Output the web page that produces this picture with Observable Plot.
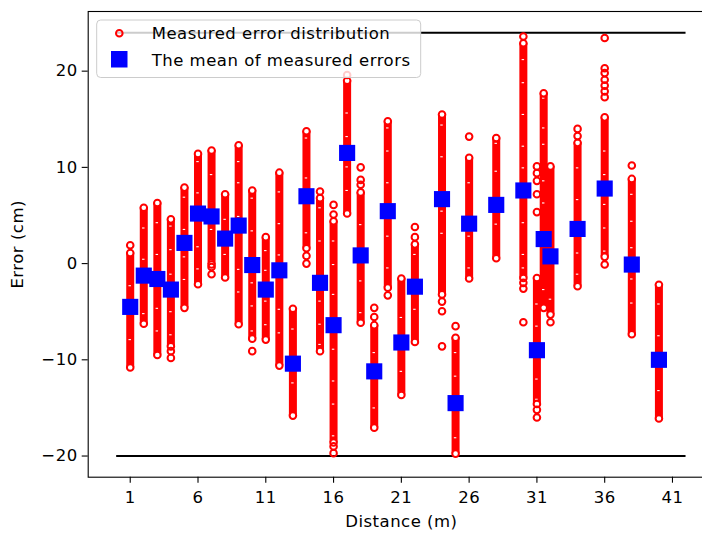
<!DOCTYPE html>
<html><head><meta charset="utf-8">
<script src="https://cdn.jsdelivr.net/npm/d3@7"></script>
<script src="https://cdn.jsdelivr.net/npm/@observablehq/plot@0.6"></script>
<style>
html,body{margin:0;padding:0;background:#fff;overflow:hidden}
#wrap{position:relative;width:702px;height:534px;font-family:"DejaVu Sans",sans-serif}
#wrap svg.plot-svg{overflow:hidden}
#wrap svg text{letter-spacing:0.5px}
#legend{position:absolute;left:0;top:0;pointer-events:none}
</style></head><body><div id="wrap"></div>
<script>
// ---- data ----
const distances   = [1,2,3,4,5,6,7,8,9,10,11,12,13,14,15,16,17,18,19,20,21,22,24,25,26,28,30,31,31.5,32,34,36,38,40];
const meanErrors  = [-4.5,-1.25,-1.6,-2.7,2.15,5.2,4.9,2.6,3.95,-0.15,-2.7,-0.7,-10.4,7.0,-2.0,-6.4,11.5,0.85,-11.2,5.45,-8.2,-2.4,6.7,-14.5,4.15,6.1,7.6,-9.0,2.55,0.75,3.6,7.8,-0.1,-10.0];
const spreadLow   = [-10.8,-6.25,-9.5,-8.6,-4.6,-2.15,-0.1,-1.45,-6.3,-7.8,-7.9,-10.6,-15.8,1.6,-9.1,-18.6,5.2,-6.15,-17.05,-2.5,-13.65,-8.15,-3.2,-19.75,-1.55,0.55,-1.5,-14.6,-4.6,-5.3,-2.35,0.7,-7.35,-16.1];
const spreadHigh  = [1.1,5.8,6.3,4.6,7.9,11.4,11.75,7.2,12.3,7.6,2.75,9.45,-4.7,13.75,6.8,4.4,19.0,7.4,-6.4,14.8,-1.55,2.0,15.5,-7.7,11.0,13.05,22.9,-1.5,17.7,10.1,12.55,15.2,8.8,-2.2];
const outlierDistance = [1,4,4,7,7,10,14,14,15,16,16,16,16,17,18,18,18,19,19,20,22,22,24,24,24,25,26,30,30,30,30,31,31,31,31,31,31,31,32,34,34,36,36,36,36,36,36,36,36,38];
const outlierError    = [1.9,-9.1,-9.8,-0.35,-1.1,-9.1,0.8,0.0,7.5,6.1,5.1,-19.0,-19.7,19.6,10.0,8.7,8.2,-4.6,-5.55,-3.3,3.8,2.75,-3.95,-4.95,-8.6,-6.5,13.2,23.6,-2.0,-2.6,-6.1,10.1,9.4,8.6,7.2,5.35,-15.2,-16.0,-6.1,14.0,13.25,23.45,20.3,19.8,19.1,18.5,17.9,17.3,-0.1,10.2];
// small gaps inside the dense clouds of measurements (seen as white flecks)
const gapDistance = [1,1, 2,2,2, 3,3,3,3, 4,4,4,4,4, 5,5,5,5, 6,6,6,6, 7,7,7, 8,8,8, 9,9,9,9,9, 10,10,10,10,10, 11,11,11,11, 12,12,12,12,12, 13,13, 14,14,14,14, 15,15,15,15,15, 16,16,16,16,16,16,16, 17,17,17,17,17, 18,18,18, 19,19, 20,20,20,20,20, 21,21, 22,22, 24,24,24,24, 25,25,25, 26,26,26, 28,28,28, 30,30,30,30,30,30,30,30, 31,31,31,31, 31.5,31.5,31.5,31.5,31.5,31.5, 32, 34,34,34,34, 36,36,36,36,36, 38,38,38,38,38, 40,40,40];
const gapError    = [-2.3,-7.9, 3.7,0.45,-5.2, 4.25,0.95,-4.65,-7.0, 3.9,1.45,-1.1,-5.0,-7.4, 6.9,3.55,0.7,-1.65, 10.6,7.35,1.75,-0.55, 9.25,3.55,0.25, 6.9,4.6,0.95, 10.6,8.4,4.9,-0.6,-2.95, 6.8,3.4,-2.0,-4.4,-7.0, 1.35,-0.7,-3.9,-6.35, 7.45,4.15,0.9,-4.75,-7.2, -6.8,-12.4, 13.05,8.9,3.2,1.8, 5.8,2.35,-3.9,-6.3,-8.4, 2.35,-0.1,-3.2,-8.9,-12.2,-14.6,-17.9, 18.95,15.65,13.2,10.05,7.6, 4.05,-1.8,-5.1, -9.25,-15.0, 14.1,11.7,8.4,2.85,-0.45, -5.6,-11.2, 0.95,-4.75, 14.4,11.1,5.45,3.15, -9.25,-11.7,-18.1, 8.4,2.85,-0.45, 12.5,9.6,4.1, 21.2,18.8,15.5,12.2,9.95,4.25,0.95,-0.45, -4.2,-6.5,-12.0,-14.1, 17.2,14.1,12.4,8.6,6.3,-2.7, -3.7, 9.95,6.65,1.1,-1.1, 11.7,9.25,6.15,3.7,1.3, 7.2,4.4,1.65,-1.6,-4.1, -4.2,-7.5,-13.2];
const limitLevels = [24, -20];
const limitFrom = 0, limitTo = 42;
const xTicks = [1,6,11,16,21,26,31,36,41];
const yTicks = [-20,-10,0,10,20];
const xLabel = "Distance (m)";
const yLabel = "Error (cm)";
const legendLabels = ["Measured error distribution", "The mean of measured errors"];

// ---- tables built from the arrays ----
const cols = distances.map((d, i) => ({d, mean: meanErrors[i], lo: spreadLow[i], hi: spreadHigh[i]}));
const ends = cols.flatMap(c => [{d: c.d, v: c.lo}, {d: c.d, v: c.hi}]);
const outs = outlierDistance.map((d, i) => ({d, v: outlierError[i]}));
const gaps = gapDistance.map((d, i) => ({d, v: gapError[i]}));
const fmt = v => v < 0 ? "\u2212" + Math.abs(v) : String(v);

const chart = Plot.plot({
  width: 702, height: 534,
  marginTop: 11, marginBottom: 57.3, marginLeft: 87.7, marginRight: -12,
  style: {fontFamily: '"DejaVu Sans", sans-serif', background: "white", color: "black"},
  x: {domain: [-2.1, 44.1]},
  y: {domain: [-22.2, 26.2]},
  marks: [
    Plot.ruleY(limitLevels, {x1: limitFrom, x2: limitTo, stroke: "black", strokeWidth: 2}),
    Plot.ruleX(cols, {x: "d", y1: "lo", y2: "hi", stroke: "red", strokeWidth: 8}),
    Plot.ruleY(gaps, {y: "v", x1: g => g.d - 0.09, x2: g => g.d + 0.09, stroke: "white", strokeWidth: 1.1}),
    Plot.dot(ends, {x: "d", y: "v", r: 3.3, stroke: "red", strokeWidth: 2, fill: "white"}),
    Plot.dot(outs, {x: "d", y: "v", r: 3.3, stroke: "red", strokeWidth: 2, fill: "none"}),
    Plot.dot(cols, {x: "d", y: "mean", symbol: "square", r: 9.1, fill: "blue", stroke: "none"}),
    Plot.frame({stroke: "black", strokeWidth: 1.1}),
    Plot.axisX(xTicks, {tickSize: 6, tickPadding: 8.1, fontSize: 16.5, label: null, strokeWidth: 1.1, fill: "black"}),
    Plot.axisY(yTicks, {tickSize: 6, tickPadding: 4.5, fontSize: 16.5, label: null, strokeWidth: 1.1, tickFormat: fmt, fill: "black"}),
    Plot.text([xLabel], {frameAnchor: "bottom", dy: 50, lineAnchor: "bottom", textAnchor: "middle", fontSize: 16.5, fill: "black"}),
    Plot.text([yLabel], {frameAnchor: "left", dx: -65.2, rotate: -90, lineAnchor: "bottom", textAnchor: "middle", fontSize: 16.5, fill: "black"})
  ]
});
chart.classList.add("plot-svg");
const wrap = document.getElementById("wrap");
wrap.appendChild(chart);

// ---- legend overlay (inside the axes, semi-transparent box) ----
const ns = "http://www.w3.org/2000/svg";
const leg = document.createElementNS(ns, "svg");
leg.setAttribute("id", "legend");
leg.setAttribute("width", 702); leg.setAttribute("height", 534);
const mk = (tag, attrs) => { const e = document.createElementNS(ns, tag); for (const k in attrs) e.setAttribute(k, attrs[k]); leg.appendChild(e); return e; };
mk("rect", {x: 96.7, y: 20, width: 324, height: 57.5, rx: 4, fill: "white", "fill-opacity": 0.8, stroke: "#cccccc", "stroke-width": 1});
mk("circle", {cx: 119.3, cy: 33.3, r: 3.3, fill: "none", stroke: "red", "stroke-width": 2});
mk("rect", {x: 111, y: 51, width: 16.5, height: 16.5, fill: "blue"});
const t1 = mk("text", {x: 151.7, y: 39.3, "font-size": 16.5, fill: "#000", "font-family": '"DejaVu Sans", sans-serif'}); t1.textContent = legendLabels[0];
const t2 = mk("text", {x: 151.7, y: 65.5, "font-size": 16.5, fill: "#000", "font-family": '"DejaVu Sans", sans-serif'}); t2.textContent = legendLabels[1];
wrap.appendChild(leg);
</script></body></html>
